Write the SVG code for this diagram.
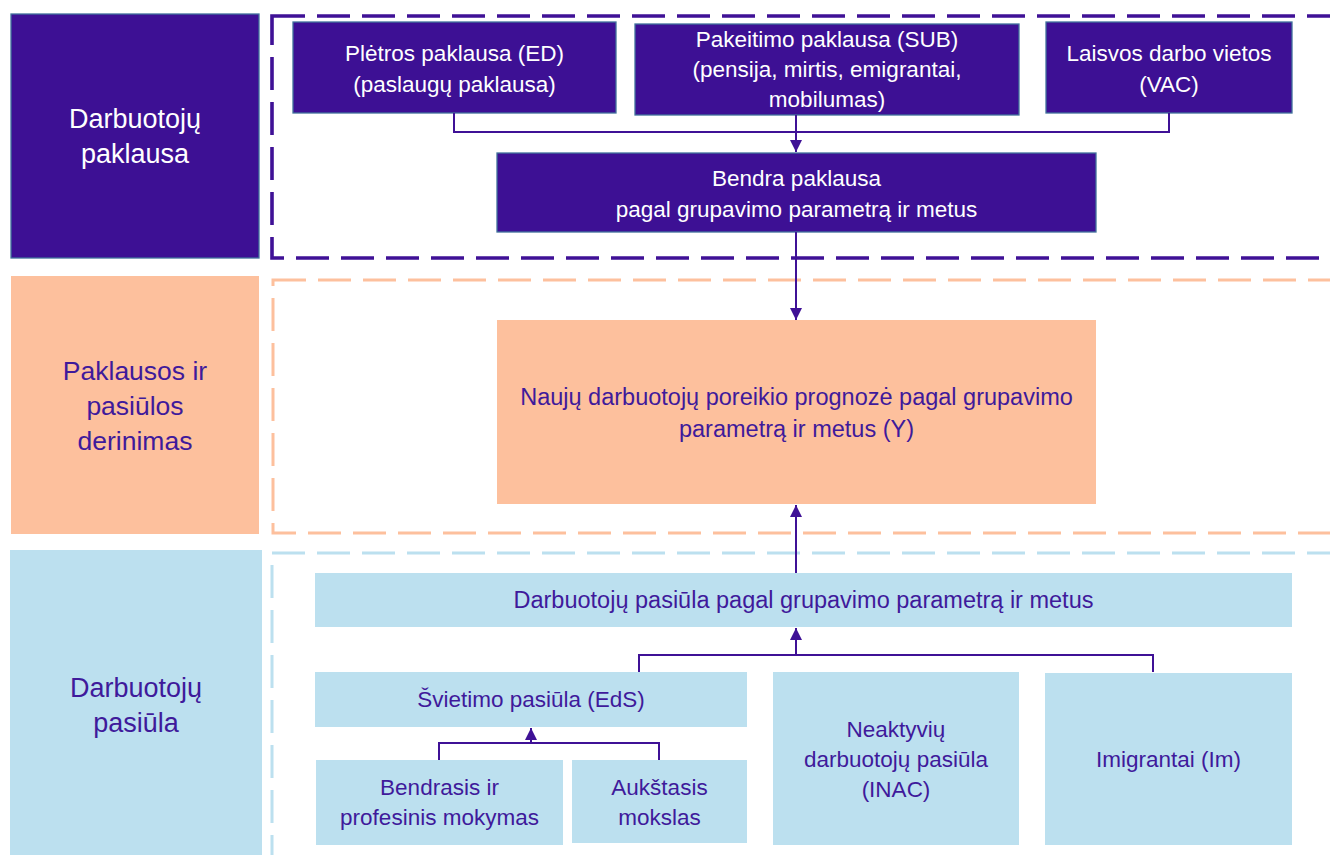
<svg xmlns="http://www.w3.org/2000/svg" width="1330" height="855" viewBox="0 0 1330 855">
<style>
.t{font-family:"Liberation Sans",Arial,sans-serif;text-anchor:middle}
.w{fill:#ffffff;font-size:22.5px}
.p{fill:#3f1a9b;font-size:22.5px}
.pb{fill:#3f1a9b;font-size:23.5px}
.lw{fill:#ffffff;font-size:27px}
.lp{fill:#3f1a9b;font-size:26.5px}
.dark{fill:#3d1094;stroke:#41719c;stroke-width:1.3}
.orange{fill:#fdc09d}
.blue{fill:#bce0ef}
.conn{fill:none;stroke:#3f1196;stroke-width:2}
</style>
<defs>
<marker id="ah" viewBox="0 0 12 12" refX="12" refY="6" markerWidth="12" markerHeight="12" markerUnits="userSpaceOnUse" orient="auto">
<path d="M0,0 L12,6 L0,12 Z" fill="#3f1196"/>
</marker>
</defs>
<rect width="1330" height="855" fill="#ffffff"/>

<g id="zones">
<rect x="272" y="16" width="1100" height="242" fill="none" stroke="#3f1196" stroke-width="3.6" stroke-dasharray="33 12"/>
<rect x="273" y="280" width="1100" height="253" fill="none" stroke="#fdc09d" stroke-width="3" stroke-dasharray="33 12"/>
<rect x="272" y="553" width="1100" height="340" fill="none" stroke="#bce0ef" stroke-width="3" stroke-dasharray="33 12"/>
</g>

<g id="label-demand">
<rect class="dark" x="11" y="14" width="248" height="244"/>
<text class="t lw" x="135" y="128">Darbuotojų</text>
<text class="t lw" x="135" y="163">paklausa</text>
</g>
<g id="label-match">
<rect class="orange" x="11" y="276" width="248" height="258"/>
<text class="t lp" x="135" y="380">Paklausos ir</text>
<text class="t lp" x="135" y="415">pasiūlos</text>
<text class="t lp" x="135" y="450">derinimas</text>
</g>
<g id="label-supply">
<rect class="blue" x="10" y="550" width="252" height="310"/>
<text class="t lp" x="136" y="697" style="font-size:27px">Darbuotojų</text>
<text class="t lp" x="136" y="732" style="font-size:27px">pasiūla</text>
</g>

<g id="ed">
<rect class="dark" x="293" y="22" width="323" height="91"/>
<text class="t w" x="454.5" y="61">Plėtros paklausa (ED)</text>
<text class="t w" x="454.5" y="92">(paslaugų paklausa)</text>
</g>
<g id="sub">
<rect class="dark" x="635" y="24" width="384" height="91"/>
<text class="t w" x="827" y="47">Pakeitimo paklausa (SUB)</text>
<text class="t w" x="827" y="77">(pensija, mirtis, emigrantai,</text>
<text class="t w" x="827" y="107">mobilumas)</text>
</g>
<g id="vac">
<rect class="dark" x="1046" y="22" width="246" height="91"/>
<text class="t w" x="1169" y="61">Laisvos darbo vietos</text>
<text class="t w" x="1169" y="92">(VAC)</text>
</g>
<g id="total-demand">
<rect class="dark" x="497" y="153" width="599" height="79"/>
<text class="t w" x="796.5" y="186">Bendra paklausa</text>
<text class="t w" x="796.5" y="217">pagal grupavimo parametrą ir metus</text>
</g>
<g id="forecast">
<rect class="orange" x="497" y="320" width="599" height="184"/>
<text class="t pb" x="796.5" y="405">Naujų darbuotojų poreikio prognozė pagal grupavimo</text>
<text class="t pb" x="796.5" y="437">parametrą ir metus (Y)</text>
</g>
<g id="total-supply">
<rect class="blue" x="315" y="573" width="977" height="54"/>
<text class="t pb" x="803.5" y="608">Darbuotojų pasiūla pagal grupavimo parametrą ir metus</text>
</g>
<g id="eds">
<rect class="blue" x="315" y="672" width="432" height="55"/>
<text class="t p" x="531" y="707">Švietimo pasiūla (EdS)</text>
</g>
<g id="inac">
<rect class="blue" x="773" y="672" width="246" height="173"/>
<text class="t p" x="896" y="737">Neaktyvių</text>
<text class="t p" x="896" y="767">darbuotojų pasiūla</text>
<text class="t p" x="896" y="797">(INAC)</text>
</g>
<g id="im">
<rect class="blue" x="1045" y="673" width="247" height="172"/>
<text class="t p" x="1168.5" y="767">Imigrantai (Im)</text>
</g>
<g id="vet">
<rect class="blue" x="316" y="760" width="247" height="85"/>
<text class="t p" x="439.5" y="795">Bendrasis ir</text>
<text class="t p" x="439.5" y="825">profesinis mokymas</text>
</g>
<g id="higher">
<rect class="blue" x="572" y="760" width="175" height="83"/>
<text class="t p" x="659.5" y="795">Aukštasis</text>
<text class="t p" x="659.5" y="825">mokslas</text>
</g>

<g id="connectors">
<polyline class="conn" points="454,113 454,132 1169,132 1169,113"/>
<line class="conn" x1="796" y1="115" x2="796" y2="152" marker-end="url(#ah)"/>
<line class="conn" x1="796" y1="232" x2="796" y2="320" marker-end="url(#ah)"/>
<line class="conn" x1="796" y1="573" x2="796" y2="505" marker-end="url(#ah)"/>
<polyline class="conn" points="639,672 639,655 1153,655 1153,672"/>
<line class="conn" x1="796" y1="655" x2="796" y2="628" marker-end="url(#ah)"/>
<polyline class="conn" points="439,760 439,743 659,743 659,760"/>
<line class="conn" x1="531" y1="743" x2="531" y2="728" marker-end="url(#ah)"/>
</g>
</svg>
